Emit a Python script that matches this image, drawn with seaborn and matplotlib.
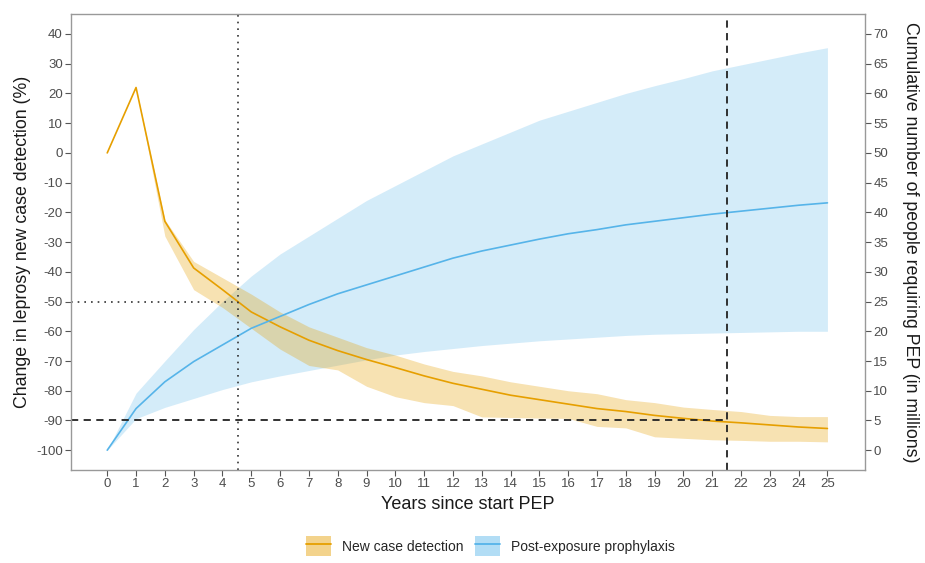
import numpy as np
import pandas as pd
import matplotlib
matplotlib.use("Agg")
import matplotlib.pyplot as plt
import seaborn as sns
from matplotlib.patches import Patch
from matplotlib.lines import Line2D

# Years since start of PEP
years = list(range(26))

# New case detection change (%), mean and uncertainty band
ncd_mean = [0, 22, -23, -38.7, -46, -53.5, -58.5, -63, -66.5, -69.5, -72.2, -75, -77.5,
            -79.5, -81.5, -83, -84.5, -86, -87, -88.3, -89.3, -90.2, -90.8, -91.5, -92.2, -92.7]
ncd_low = [0, 22, -28, -46, -52, -59, -66, -71.5, -73, -78.5, -82, -84, -85, -88.8,
           -89, -89.2, -89.3, -92, -92.5, -95.5, -96, -96.5, -96.7, -97, -97, -97.2]
ncd_high = [0, 22, -22.5, -36.5, -42, -47.5, -53.5, -58.5, -62, -65.5, -68, -71, -73.5,
            -75, -77, -78.5, -80, -81, -83, -84, -85.5, -86.3, -87, -88.3, -88.7, -88.7]

# Cumulative number of people requiring PEP (millions)
pep_mean = [0, 7, 11.5, 14.9, 17.7, 20.5, 22.5, 24.5, 26.3, 27.8, 29.3, 30.8, 32.3,
            33.5, 34.5, 35.5, 36.4, 37.1, 37.9, 38.5, 39.1, 39.7, 40.2, 40.7, 41.2, 41.6]
pep_low = [0, 5.3, 7.2, 8.7, 10.2, 11.5, 12.5, 13.4, 14.3, 15.2, 16, 16.6, 17.1,
           17.6, 18.0, 18.4, 18.7, 19.0, 19.3, 19.5, 19.6, 19.7, 19.8, 19.9, 20, 20]
pep_high = [0, 9.6, 15, 20.3, 25, 29.3, 33, 36, 39, 42, 44.5, 47, 49.5, 51.5, 53.5,
            55.5, 57, 58.5, 60, 61.3, 62.5, 63.8, 64.8, 65.8, 66.8, 67.7]

# reference lines
half_year, half_level = 4.55, -50
ninety_year, ninety_level = 21.5, -90

ORANGE = "#E69F00"
BLUE = "#56B4E9"


def to_left(r):
    # right axis (millions) -> left axis (%)
    return 2 * np.asarray(r) - 100


def to_right(y):
    return (np.asarray(y) + 100) / 2


sns.set_theme(style="white")
plt.rcParams['font.family'] = ['Liberation Sans', 'DejaVu Sans']
plt.rcParams['axes.unicode_minus'] = False

df = pd.concat([
    pd.DataFrame({'year': years, 'value': ncd_mean, 'series': 'New case detection'}),
    pd.DataFrame({'year': years, 'value': to_left(pep_mean), 'series': 'Post-exposure prophylaxis'}),
])

fig = plt.figure(figsize=(9.25, 5.63), dpi=100)
ax = fig.add_axes([0.077, 0.165, 0.858, 0.81])

xlim = (-1.25, 26.3)
ylim = (-106.7, 46.7)

ax.fill_between(years, to_left(pep_low), to_left(pep_high), color=BLUE, alpha=0.25, lw=0)
ax.fill_between(years, ncd_low, ncd_high, color=ORANGE, alpha=0.3, lw=0)
sns.lineplot(data=df, x='year', y='value', hue='series',
             palette={'New case detection': ORANGE, 'Post-exposure prophylaxis': BLUE},
             lw=1.2, ax=ax, legend=False)

# reference lines
ax.plot([xlim[0], half_year], [half_level, half_level], ls=(0, (1, 3)), color='#333333', lw=1.2)
ax.axvline(half_year, ls=(0, (1, 3)), color='#333333', lw=1.2)
ax.plot([xlim[0], ninety_year], [ninety_level, ninety_level], ls=(0, (4, 3)), color='#222222', lw=1.3)
ax.axvline(ninety_year, ls=(0, (4, 3)), color='#222222', lw=1.3)

ax.set_xlim(*xlim)
ax.set_ylim(*ylim)
ax.set_xticks(years)
ax.set_yticks(range(-100, 41, 10))
ax.set_xlabel('Years since start PEP', fontsize=13, color='#1a1a1a', labelpad=4)
ax.set_ylabel('Change in leprosy new case detection (%)', fontsize=12.8, color='#1a1a1a', labelpad=4)

sec = ax.secondary_yaxis('right', functions=(to_right, to_left))
sec.set_yticks(range(0, 71, 5))
sec.set_ylabel('Cumulative number of people requiring PEP (in millions)', fontsize=12.8,
               color='#1a1a1a', rotation=270, labelpad=22)

for a in (ax, sec):
    a.tick_params(axis='both', which='major', length=4, width=0.8, color='#555555',
                  labelsize=9.5, labelcolor='#4d4d4d', direction='out', pad=2)
ax.tick_params(left=True, bottom=True)
sec.tick_params(right=True)
for s in ax.spines.values():
    s.set_color('#999999')
    s.set_linewidth(1.0)
sec.spines['right'].set_visible(False)

handles = [(Patch(color=ORANGE, alpha=0.45, lw=0), Line2D([], [], color=ORANGE, lw=1.3)),
           (Patch(color=BLUE, alpha=0.45, lw=0), Line2D([], [], color=BLUE, lw=1.3))]
fig.legend(handles, ['New case detection', 'Post-exposure prophylaxis'],
           loc='lower center', bbox_to_anchor=(0.53, -0.01), ncol=2, frameon=False,
           fontsize=10, handlelength=1.8, handleheight=1.8, columnspacing=0.8)

fig.savefig('out.png', dpi=100)
